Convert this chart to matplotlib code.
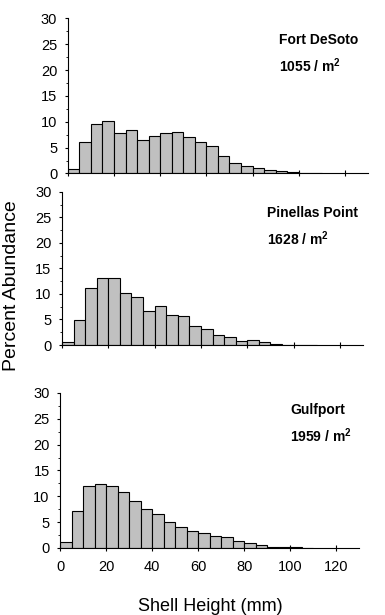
import numpy as np
import matplotlib.pyplot as plt
from matplotlib.ticker import MultipleLocator

plt.rcParams['font.family'] = ['Liberation Sans', 'DejaVu Sans']
plt.rcParams['mathtext.fontset'] = 'custom'
plt.rcParams['mathtext.rm'] = 'Liberation Sans'
plt.rcParams['mathtext.bf'] = 'Liberation Sans:bold'

# 5 mm size classes
bin_left = np.arange(0, 110, 5)

sites = ['Fort DeSoto', 'Pinellas Point', 'Gulfport']
densities = ['1055', '1628', '1959']

fort_desoto = [0.9, 6.0, 9.5, 10.2, 7.9, 8.4, 6.5, 7.2, 7.9, 8.1, 7.0, 6.0,
               5.3, 3.3, 2.1, 1.5, 1.0, 0.7, 0.5, 0.25, 0.0, 0.0]
pinellas = [0.5, 4.9, 11.1, 13.2, 13.2, 10.2, 9.5, 6.7, 7.6, 5.8, 5.6, 3.7,
            3.1, 1.9, 1.5, 0.8, 1.0, 0.5, 0.25, 0.0, 0.0, 0.0]
gulfport = [1.2, 7.1, 12.0, 12.4, 12.0, 10.8, 9.0, 7.6, 6.6, 5.0, 4.1, 3.2,
            2.9, 2.3, 2.1, 1.4, 0.9, 0.6, 0.2, 0.2, 0.2, 0.05]

series = [fort_desoto, pinellas, gulfport]

fig = plt.figure(figsize=(3.85, 6.15), dpi=100)

# panels are not quite aligned in the original layout
boxes = [(0.176, 0.718, 0.780, 0.252),
         (0.161, 0.439, 0.782, 0.249),
         (0.156, 0.109, 0.777, 0.252)]
# label anchor (x, y) in axes fraction
label_pos = [(0.705, 0.86), (0.68, 0.86), (0.77, 0.89)]

for i, (vals, box) in enumerate(zip(series, boxes)):
    ax = fig.add_axes(box)
    ax.bar(bin_left, vals, width=5, align='edge', color='#c0c0c0',
           edgecolor='black', linewidth=0.8, zorder=2)
    ax.set_xlim(0, 130)
    ax.set_ylim(0, 30)
    ax.spines['top'].set_visible(False)
    ax.spines['right'].set_visible(False)
    ax.spines['left'].set_linewidth(0.8)
    ax.spines['bottom'].set_linewidth(0.8)
    ax.yaxis.set_major_locator(MultipleLocator(5))
    ax.yaxis.set_minor_locator(MultipleLocator(2.5))
    ax.xaxis.set_major_locator(MultipleLocator(20))
    ax.tick_params(axis='y', which='major', length=2.5, width=0.8,
                   labelsize=10.5, pad=5)
    ax.tick_params(axis='y', which='minor', length=1.2, width=0.6)
    ax.tick_params(axis='x', which='major', direction='inout', length=5,
                   width=0.8, labelsize=10.5, pad=6)
    if i < 2:
        ax.tick_params(axis='x', labelbottom=False)

    lx, ly = label_pos[i]
    ax.text(lx, ly, sites[i], transform=ax.transAxes, fontsize=10,
            fontweight='bold', ha='left', va='center')
    ax.text(lx, ly - 0.165, densities[i] + ' / m$^\\mathbf{2}$',
            transform=ax.transAxes, fontsize=10, fontweight='bold',
            ha='left', va='center')

fig.text(0.031, 0.535, 'Percent Abundance', rotation=90, fontsize=14,
         ha='center', va='center')
fig.text(0.545, 0.014, 'Shell Height (mm)', fontsize=13,
         ha='center', va='center')

fig.savefig('out.png', dpi=100)
